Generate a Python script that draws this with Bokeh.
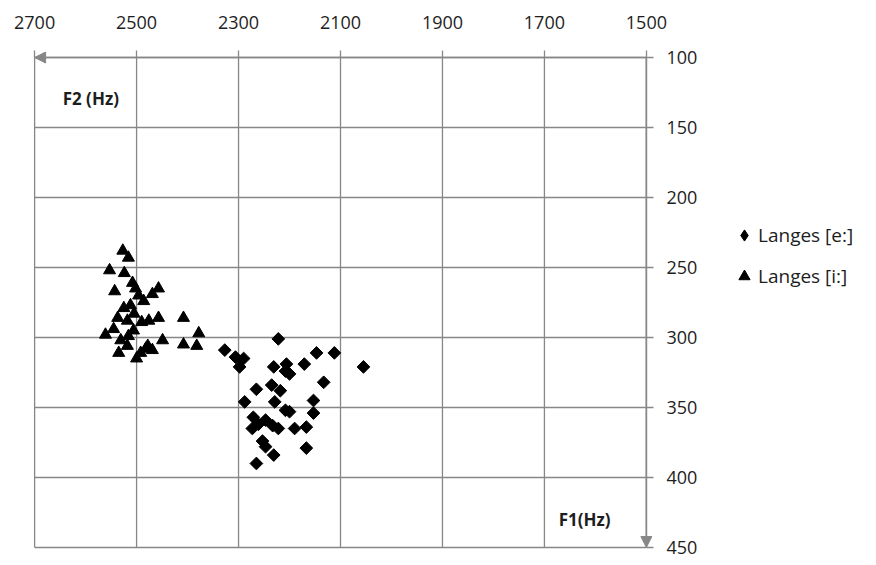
import math
from bokeh.plotting import figure
from bokeh.layouts import row
from bokeh.models import (Range1d, LinearAxis, FixedTicker, Arrow, NormalHead,
                          Legend, LegendItem, Label, ColumnDataSource, CDSView,
                          IndexFilter)
from bokeh.embed import file_html
from bokeh.resources import INLINE

# F2 (x, Hz) and F1 (y, Hz) values
e_f2 = [2222, 2327, 2306, 2290, 2298, 2231, 2206, 2208, 2200, 2171, 2147, 2112,
        2055, 2133, 2265, 2235, 2218, 2288, 2229, 2208, 2153, 2153, 2271, 2247,
        2233, 2222, 2273, 2190, 2167, 2253, 2247, 2167, 2231, 2265, 2200, 2261]
e_f1 = [301, 309, 314, 315, 321, 321, 319, 324, 326, 319, 311, 311,
        321, 332, 337, 334, 338, 346, 346, 352, 345, 354, 357, 359,
        363, 365, 365, 365, 364, 374, 378, 379, 384, 390, 353, 362]

i_f2 = [2527, 2516, 2553, 2524, 2543, 2508, 2502, 2457, 2469, 2486, 2496, 2512,
        2525, 2537, 2476, 2457, 2408, 2518, 2378, 2408, 2382, 2449, 2478, 2492,
        2500, 2535, 2518, 2561, 2545, 2506, 2516, 2531, 2469, 2482, 2490, 2505]
i_f1 = [238, 243, 252, 254, 267, 261, 265, 265, 269, 274, 270, 277,
        279, 286, 288, 286, 286, 288, 297, 305, 306, 302, 306, 311,
        315, 311, 306, 298, 294, 295, 299, 302, 309, 308, 289, 283]

series_labels = ["Langes [e:]", "Langes [i:]"]
x_ticks = [2700, 2500, 2300, 2100, 1900, 1700, 1500]
y_ticks = [100, 150, 200, 250, 300, 350, 400, 450]
x_min, x_max = 1500, 2700
y_min, y_max = 100, 450

FONT = "Open Sans"
GRID = "#878787"
TXT = "#1e1e1e"
H = 561

src_e = ColumnDataSource(data=dict(x=e_f2, y=e_f1))
src_i = ColumnDataSource(data=dict(x=i_f2, y=i_f1))

# small padding so that the axis arrows at the frame edge are not clipped
PADX, PADY = 12, 4.3
p = figure(width=707, height=H, output_backend="svg", toolbar_location=None,
           x_range=Range1d(x_max + PADX, x_min - PADX),
           y_range=Range1d(y_max + PADY, y_min - PADY),
           x_axis_location=None, y_axis_location=None,
           min_border_left=28, min_border_right=55, min_border_top=51,
           min_border_bottom=8)
p.outline_line_color = None
p.xgrid.visible = False
p.ygrid.visible = False

xa = LinearAxis(ticker=FixedTicker(ticks=x_ticks))
ya = LinearAxis(ticker=FixedTicker(ticks=y_ticks))
for ax in (xa, ya):
    ax.axis_line_color = None
    ax.major_tick_line_color = GRID
    ax.major_tick_line_width = 1.3
    ax.major_tick_out = 1
    ax.major_tick_in = 6
    ax.minor_tick_line_color = None
    ax.major_label_text_font = FONT
    ax.major_label_text_font_size = "18px"
    ax.major_label_text_color = TXT
xa.major_label_standoff = 22
ya.major_label_standoff = 13
p.add_layout(xa, "above")
p.add_layout(ya, "right")

# grid lines
p.segment(x0=x_ticks, y0=[y_min] * len(x_ticks), x1=x_ticks, y1=[y_max] * len(x_ticks),
          line_color=GRID, line_width=1.3)
p.segment(x0=[x_max] * len(y_ticks), y0=y_ticks, x1=[x_min] * len(y_ticks), y1=y_ticks,
          line_color=GRID, line_width=1.3)

p.add_layout(Arrow(x_start=x_min, y_start=y_min, x_end=x_max, y_end=y_min,
                   line_color=GRID, line_width=1.6,
                   end=NormalHead(size=11, fill_color=GRID, line_color=GRID)))
p.add_layout(Arrow(x_start=x_min, y_start=y_min, x_end=x_min, y_end=y_max,
                   line_color=GRID, line_width=1.6,
                   end=NormalHead(size=11, fill_color=GRID, line_color=GRID)))

p.scatter("x", "y", source=src_e, marker="square", angle=math.pi / 4, size=9,
          fill_color="black", line_color="black")
p.scatter("x", "y", source=src_i, marker="triangle", size=12,
          fill_color="black", line_color="black")

p.add_layout(Label(x=2645, y=129, text="F2 (Hz)", text_font=FONT,
                   text_font_size="17px", text_font_style="bold",
                   text_baseline="middle", text_color=TXT))
p.add_layout(Label(x=1672, y=430, text="F1(Hz)", text_font=FONT,
                   text_font_size="17px", text_font_style="bold",
                   text_baseline="middle", text_color=TXT))

# legend panel (separate canvas so that it is not clipped by the main frame);
# its renderers share the data sources but show no points (view filtered to one
# point that lies outside this panel's range)
lp = figure(width=876 - 707, height=H, output_backend="svg", toolbar_location=None,
            x_range=Range1d(0, 1), y_range=Range1d(0, 1),
            x_axis_location=None, y_axis_location=None, min_border=0)
lp.outline_line_color = None
lp.xgrid.visible = False
lp.ygrid.visible = False
le = lp.scatter("x", "y", source=src_e, view=CDSView(filter=IndexFilter([0])),
                marker="diamond", fill_color="black", line_color="black")
li = lp.scatter("x", "y", source=src_i, view=CDSView(filter=IndexFilter([0])),
                marker="triangle", fill_color="black", line_color="black")
legend = Legend(items=[LegendItem(label=series_labels[0], renderers=[le]),
                       LegendItem(label=series_labels[1], renderers=[li])],
                location=(23, 263), border_line_color=None,
                background_fill_alpha=0, padding=0, margin=0,
                glyph_width=28, glyph_height=28, label_height=28,
                label_standoff=0, spacing=13,
                label_text_font=FONT, label_text_font_size="19px",
                label_text_color=TXT)
lp.add_layout(legend, "center")

open("out.html", "w").write(file_html(row(p, lp), INLINE))
